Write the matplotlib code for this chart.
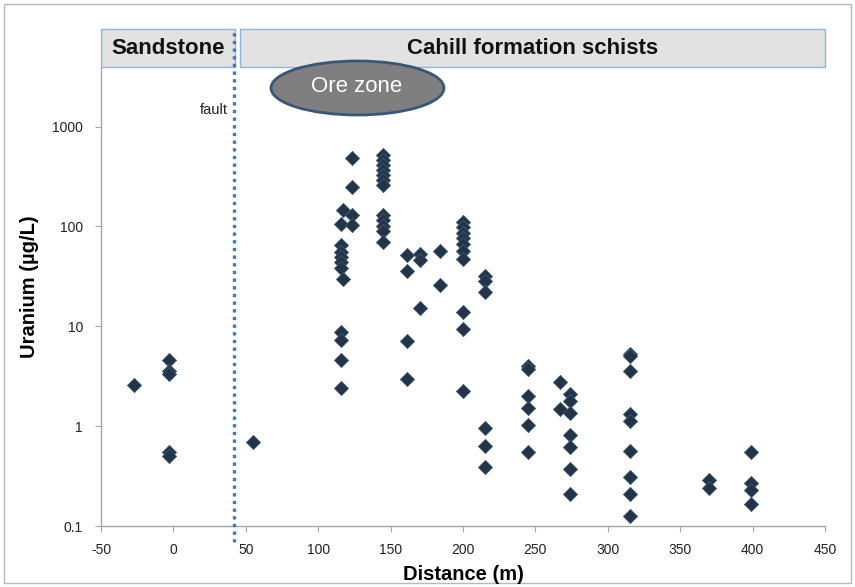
import matplotlib
matplotlib.use("Agg")
import matplotlib.pyplot as plt
from matplotlib.patches import Rectangle, Ellipse
from matplotlib.ticker import FixedLocator, FixedFormatter, NullLocator
import numpy as np

plt.rcParams['font.family'] = ['Liberation Sans', 'DejaVu Sans']

# ---- data ----
distance = [-27,
            -3, -3, -3, -3, -3,
            55,
            117, 116, 116, 116, 116, 116, 116, 117, 116, 116, 116, 116,
            123, 123, 123, 123,
            145, 145, 145, 145, 145, 145, 145, 145, 145, 145, 145, 145,
            161, 161, 161, 161,
            170, 170, 170,
            184, 184,
            200, 200, 200, 200, 200, 200, 200, 200, 200, 200,
            215, 215, 215, 215, 215, 215,
            245, 245, 245, 245, 245, 245,
            267, 267,
            274, 274, 274, 274, 274, 274, 274,
            315, 315, 315, 315, 315, 315, 315, 315, 315,
            370, 370,
            399, 399, 399, 399]
uranium = [2.6,
           4.6, 3.6, 3.3, 0.55, 0.50,
           0.70,
           145, 106, 65.5, 56, 49, 43.7, 38, 30, 8.8, 7.3, 4.6, 2.4,
           486, 248, 129, 104,
           517, 460, 410, 365, 326, 290, 262, 129, 115, 102, 91, 70.5,
           52, 36, 7.1, 3.0,
           53, 46, 15.4,
           57, 26,
           112, 98, 86, 76, 66, 57, 47, 13.8, 9.5, 2.25,
           32, 28.6, 22.3, 0.96, 0.64, 0.39,
           4.0, 3.7, 2.0, 1.53, 1.02, 0.55,
           2.8, 1.47,
           2.08, 1.78, 1.34, 0.81, 0.62, 0.37, 0.21,
           5.3, 5.0, 3.6, 1.31, 1.12, 0.57, 0.31, 0.21, 0.126,
           0.29, 0.24,
           0.55, 0.27, 0.23, 0.166]

x_ticks = [-50, 0, 50, 100, 150, 200, 250, 300, 350, 400, 450]
y_ticks = [0.1, 1, 10, 100, 1000]
y_tick_labels = ['0.1', '1', '10', '100', '1000']
fault_x = 42
y_max = 10 ** 3.6

W, H = 855, 587
fig = plt.figure(figsize=(W / 100, H / 100), dpi=100)


def fx(px):
    return px / W


def fy(py):
    return 1 - py / H


ax_left, ax_right, ax_top, ax_bottom = 101, 825, 66.7, 526
ax_h = ax_bottom - ax_top
ax = fig.add_axes([fx(ax_left), fy(ax_bottom), fx(ax_right - ax_left), ax_h / H])
ax.set_zorder(10)
ax.patch.set_visible(False)

ax.scatter(distance, uranium, marker='D', s=52, facecolor='#243447',
           edgecolor='#3a5878', linewidth=0.6, zorder=3)

ax.set_yscale('log')
ax.set_xlim(-50, 450)
ax.set_ylim(0.1, y_max)
ax.xaxis.set_major_locator(FixedLocator(x_ticks))
ax.set_xticklabels([str(t) for t in x_ticks])
ax.yaxis.set_major_locator(FixedLocator(y_ticks))
ax.yaxis.set_major_formatter(FixedFormatter(y_tick_labels))
ax.yaxis.set_minor_locator(NullLocator())

for s in ['top', 'right']:
    ax.spines[s].set_visible(False)
for s in ['left', 'bottom']:
    ax.spines[s].set_color('#a6a6a6')
    ax.spines[s].set_linewidth(1.0)
ax.tick_params(axis='both', direction='out', length=4, width=0.8, color='#a6a6a6',
               labelsize=10, labelcolor='#222222')
ax.tick_params(axis='y', pad=9)
ax.tick_params(axis='x', pad=8)

ax.set_xlabel('Distance (m)', fontsize=14.5, fontweight='bold')
ax.set_ylabel('Uranium (µg/L)', fontsize=14.5, fontweight='bold')
ax.yaxis.set_label_coords(-0.085, 0.52)
ax.xaxis.set_label_coords(0.5, -(565 - ax_bottom) / ax_h)

# fault line
ax.axvline(fault_x, ymin=-0.035, ymax=1.0 + (66.7 - 29.3) / ax_h, color='#3f78c0',
           linestyle=(0, (1, 1.3)), linewidth=2.4, clip_on=False, zorder=9)

# formation boxes
box_top, box_bot = 29.3, 66.7
for (x0, x1, label) in [(100.7, 235, 'Sandstone'), (240, 825, 'Cahill formation schists')]:
    r = Rectangle((fx(x0), fy(box_bot)), fx(x1 - x0), (box_bot - box_top) / H,
                  transform=fig.transFigure, facecolor='#e2e2e2', edgecolor='#95b3d7',
                  linewidth=1.0, zorder=5)
    fig.add_artist(r)
    fig.text(fx((x0 + x1) / 2), fy((box_top + box_bot) / 2 + 1), label, ha='center', va='center',
             fontsize=16, fontweight='bold', color='#111111', zorder=6)

# ore zone ellipse
ell = Ellipse((fx(357.5), fy(88)), fx(173), 54 / H, transform=fig.transFigure,
              facecolor='#7f7f7f', edgecolor='#3b5577', linewidth=2.0, zorder=7)
fig.add_artist(ell)
fig.text(fx(357), fy(87), 'Ore zone', ha='center', va='center', fontsize=16,
         color='white', zorder=8)

fig.text(fx(228), fy(110), 'fault', ha='right', va='center', fontsize=10.5, color='#222222')

# outer border
border = Rectangle((fx(4), fy(583)), fx(847), 579 / H, transform=fig.transFigure,
                   facecolor='none', edgecolor='#b8b8b8', linewidth=1.0, zorder=0)
fig.add_artist(border)

fig.savefig('out.png', dpi=100)
